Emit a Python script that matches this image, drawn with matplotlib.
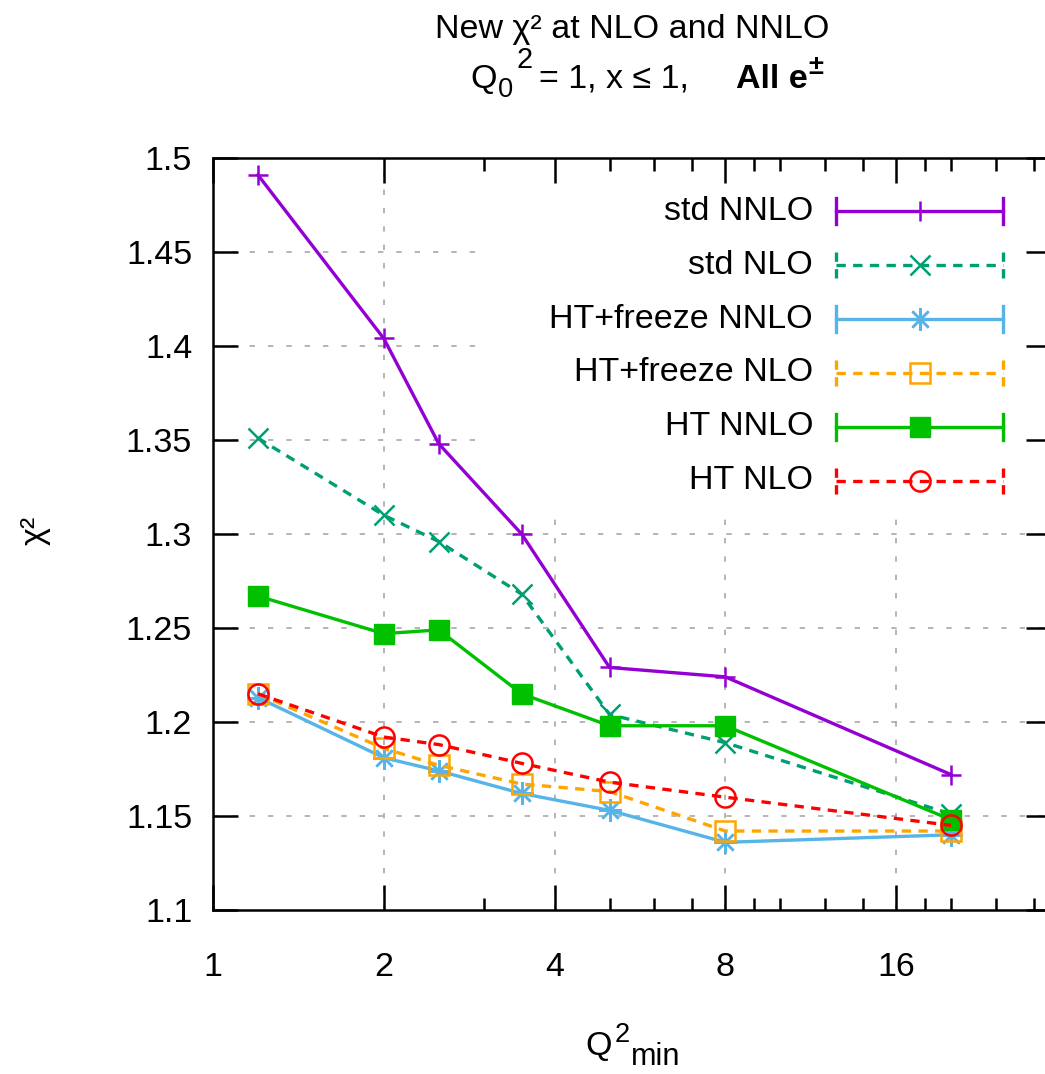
import matplotlib
matplotlib.use('Agg')
import matplotlib.pyplot as plt
from matplotlib.patches import Rectangle
from matplotlib.ticker import FixedLocator, NullFormatter
from matplotlib.font_manager import FontProperties
from matplotlib.transforms import IdentityTransform

plt.rcParams['font.family'] = ['Liberation Sans', 'DejaVu Sans']

# Q2 cut values
q2_min = [1.2, 2, 2.5, 3.5, 5, 8, 20]

# chi2 per point for each fit
std_nnlo = [1.491, 1.404, 1.348, 1.300, 1.229, 1.224, 1.172]
std_nlo = [1.351, 1.310, 1.296, 1.268, 1.204, 1.189, 1.151]
htfr_nnlo = [1.213, 1.181, 1.174, 1.162, 1.153, 1.136, 1.140]
htfr_nlo = [1.215, 1.186, 1.177, 1.167, 1.163, 1.142, 1.142]
ht_nnlo = [1.267, 1.247, 1.249, 1.215, 1.198, 1.198, 1.148]
ht_nlo = [1.215, 1.192, 1.188, 1.178, 1.168, 1.160, 1.145]

labels = ['std NNLO', 'std NLO', 'HT+freeze NNLO', 'HT+freeze NLO', 'HT NNLO', 'HT NLO']

x_major = [1, 2, 4, 8, 16]
x_minor = [3, 5, 6, 7, 9, 10, 12, 14, 18, 20, 24, 28]
y_major = [1.1, 1.15, 1.2, 1.25, 1.3, 1.35, 1.4, 1.45, 1.5]

FS = 24.5
LW = 2.4
dash = (0, (2.8, 2.2))
styles = [
    dict(color='#9400D3', ls='-', marker='+', ms=15, mew=1.8, mfc='none'),
    dict(color='#009E73', ls=dash, marker='x', ms=14.5, mew=1.8, mfc='none'),
    dict(color='#56B4E9', ls='-', marker=(8, 2, 0), ms=16.5, mew=1.8, mfc='none'),
    dict(color='#FFA500', ls=dash, marker='s', ms=14, mew=1.8, mfc='none'),
    dict(color='#00C000', ls='-', marker='s', ms=14.5, mew=1.0, mfc='#00C000'),
    dict(color='#FF0000', ls=dash, marker='o', ms=14.5, mew=1.8, mfc='none'),
]
series = [std_nnlo, std_nlo, htfr_nnlo, htfr_nlo, ht_nnlo, ht_nlo]

W, H = 1045, 1074
fig = plt.figure(figsize=(W / 100, H / 100), dpi=100)
ax = fig.add_axes([213 / W, 164 / H, 838 / W, 752 / H])


def text_run(x0, top_y, pieces):
    """Write a run of text pieces (super/subscripts gnuplot style) from pixel x0,
    with the baseline top_y pixels below the top edge."""
    r = fig.canvas.get_renderer()
    x = x0
    base = H - top_y
    for s, sc, dy, wt, gap in pieces:
        fp = FontProperties(family='Liberation Sans', size=FS * sc, weight=wt)
        w, h, d = r.get_text_width_height_descent(s, fp, ismath=False)
        fig.text(x, base + dy * FS * 100 / 72, s, transform=IdentityTransform(),
                 fontproperties=fp, ha='left', va='baseline')
        x += w + gap


ax.set_xscale('log', base=2)
ax.set_xlim(1, 30)
ax.set_ylim(1.1, 1.5)

# dashed grid under everything
for gx in x_major[1:]:
    ax.axvline(gx, color='#a0a0a0', lw=1.1, ls=(0, (3.5, 8.5)), zorder=0.8)
for gy in y_major[1:-1]:
    ax.axhline(gy, color='#a0a0a0', lw=1.1, ls=(0, (3.5, 8.5)), zorder=0.8)

# opaque key area
ax.add_patch(Rectangle((0.316, 0.5346), 0.7, 0.47, transform=ax.transAxes,
                       facecolor='white', edgecolor='none', zorder=1))

for vals, st in zip(series, styles):
    ax.plot(q2_min, vals, lw=LW, color=st['color'], ls=st['ls'], marker=st['marker'],
            ms=st['ms'], mew=st['mew'], mfc=st['mfc'], mec=st['color'], zorder=3)

# key entries with error-bar style samples
y0, dy = 0.9295, 0.0718
x_a, x_b, x_m = 0.7434, 0.9427, 0.8437
cap = 0.0173
for i, (lab, st) in enumerate(zip(labels, styles)):
    yy = y0 - i * dy
    ax.text(0.716, yy, lab, transform=ax.transAxes, ha='right', va='center',
            fontsize=FS, zorder=4)
    ax.plot([x_a, x_b], [yy, yy], transform=ax.transAxes, color=st['color'],
            ls=st['ls'], lw=LW, zorder=4)
    for xc in (x_a, x_b):
        ax.plot([xc, xc], [yy - cap, yy + cap], transform=ax.transAxes,
                color=st['color'], ls=st['ls'], lw=LW, zorder=4)
    ax.plot([x_m], [yy], transform=ax.transAxes, ls='none', marker=st['marker'],
            ms=st['ms'], mew=st['mew'], mfc=st['mfc'], mec=st['color'], zorder=5)

ax.xaxis.set_major_locator(FixedLocator(x_major))
ax.xaxis.set_minor_locator(FixedLocator(x_minor))
ax.set_xticklabels([str(v) for v in x_major])
ax.xaxis.set_minor_formatter(NullFormatter())
ax.yaxis.set_major_locator(FixedLocator(y_major))
ax.set_yticklabels(['%g' % v for v in y_major])
ax.yaxis.set_minor_locator(FixedLocator([]))

ax.tick_params(which='both', direction='in', top=True, right=True, width=1.8,
               labelsize=FS, color='black')
ax.tick_params(which='major', length=18)
ax.tick_params(which='minor', length=9)
ax.tick_params(axis='x', which='major', pad=30)
ax.tick_params(axis='y', which='major', pad=15)
for sp in ax.spines.values():
    sp.set_linewidth(1.8)

ax.text(-0.212, 0.505, 'χ²', transform=ax.transAxes, rotation=90,
        ha='center', va='center', fontsize=FS)

# titles and x label
fig.text((213 + 838 / 2) / W, 1 - 38 / H, 'New χ² at NLO and NNLO',
         ha='center', va='baseline', fontsize=FS)
text_run(470, 88, [('Q', 1, 0, 'normal', 1),
                   ('0', 0.8, -0.27, 'normal', 4),
                   ('2', 0.85, 0.58, 'normal', 6),
                   ('= 1, x ≤ 1,', 1, 0, 'normal', 47),
                   ('All e', 1, 0, 'bold', 1),
                   ('±', 0.8, 0.42, 'bold', 0)])
text_run(585, 1055, [('Q', 1, 0, 'normal', 3),
                     ('2', 0.8, 0.39, 'normal', 1),
                     ('min', 0.9, -0.3, 'normal', 0)])

fig.savefig('out.png', dpi=100)
